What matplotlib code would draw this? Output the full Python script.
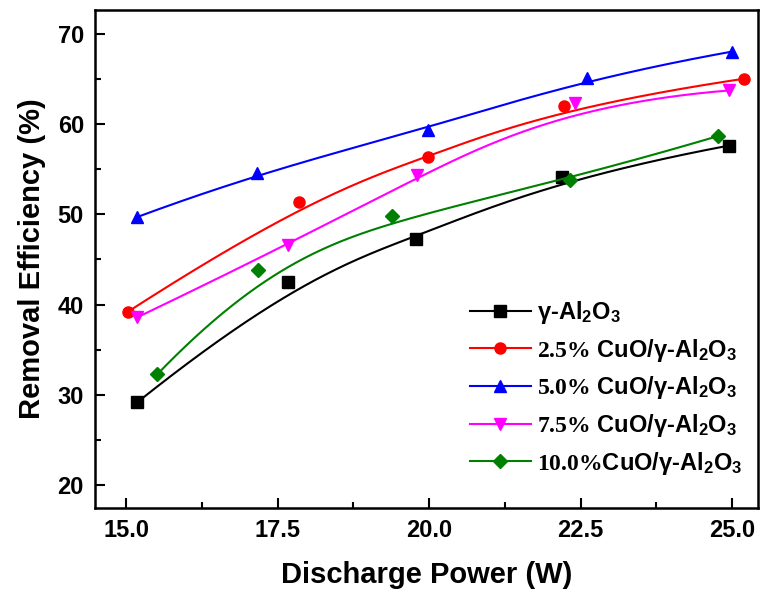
import numpy as np
import matplotlib
matplotlib.use('Agg')
import matplotlib.pyplot as plt

plt.rcParams['font.family'] = ['Liberation Sans', 'DejaVu Sans']
plt.rcParams['font.weight'] = 'bold'
plt.rcParams['mathtext.fontset'] = 'custom'
plt.rcParams['mathtext.default'] = 'regular'
plt.rcParams['mathtext.bf'] = 'Liberation Serif:bold'

# data
x_al2o3 = [15.18, 17.67, 19.78, 22.19, 24.95]
y_al2o3 = [29.2, 42.5, 47.3, 54.1, 57.6]

x_cu25 = [15.02, 17.85, 19.98, 22.22, 25.20]
y_cu25 = [39.2, 51.4, 56.3, 62.0, 65.0]

x_cu50 = [15.18, 17.15, 19.98, 22.60, 25.00]
y_cu50 = [49.7, 54.6, 59.3, 65.1, 68.0]

x_cu75 = [15.18, 17.67, 19.80, 22.41, 24.95]
y_cu75 = [38.6, 46.6, 54.3, 62.3, 63.7]

x_cu100 = [15.51, 17.17, 19.38, 22.32, 24.77]
y_cu100 = [32.3, 43.8, 49.8, 53.8, 58.65]

labels = ['γ-Al$_2$O$_3$',
          r'$\mathbf{2.5\%}$ CuO/γ-Al$_2$O$_3$',
          r'$\mathbf{5.0\%}$ CuO/γ-Al$_2$O$_3$',
          r'$\mathbf{7.5\%}$ CuO/γ-Al$_2$O$_3$',
          r'$\mathbf{10.0\%}$CuO/γ-Al$_2$O$_3$']


def bspline(px, py, k=3, n=300):
    # clamped B-spline with the data points as control points (Origin style)
    px = np.asarray(px, float)
    py = np.asarray(py, float)
    m = len(px)
    knots = np.concatenate([np.zeros(k), np.linspace(0, 1, m - k + 1), np.ones(k)])
    t = np.linspace(0, 1 - 1e-9, n)
    B = np.zeros((n, len(knots) - 1))
    for i in range(len(knots) - 1):
        B[:, i] = (knots[i] <= t) & (t < knots[i + 1])
    for d in range(1, k + 1):
        Bn = np.zeros((n, len(knots) - 1 - d))
        for i in range(len(knots) - 1 - d):
            a = 0.0
            if knots[i + d] != knots[i]:
                a = (t - knots[i]) / (knots[i + d] - knots[i]) * B[:, i]
            b = 0.0
            if knots[i + d + 1] != knots[i + 1]:
                b = (knots[i + d + 1] - t) / (knots[i + d + 1] - knots[i + 1]) * B[:, i + 1]
            Bn[:, i] = a + b
        B = Bn
    return B @ px, B @ py


fig = plt.figure(figsize=(7.6, 5.92), dpi=100)
ax = fig.add_axes([0.125, 0.142, 0.873, 0.841])

series = [
    (x_al2o3, y_al2o3, 'black', 's'),
    (x_cu25, y_cu25, 'red', 'o'),
    (x_cu50, y_cu50, 'blue', '^'),
    (x_cu75, y_cu75, 'magenta', 'v'),
    (x_cu100, y_cu100, 'green', 'D'),
]
for (xs, ys, c, m), lab in zip(series, labels):
    sx, sy = bspline(xs, ys)
    ms = 8 if m != 'D' else 7
    ax.plot(sx, sy, '-', color=c, lw=1.5)
    ax.plot(xs, ys, m, color=c, ms=ms, ls='none')
    ax.plot([], [], '-', color=c, marker=m, ms=ms, lw=1.5, label=lab)

ax.set_xlim(14.48, 25.44)
ax.set_ylim(17.5, 72.6)
ax.set_xticks([15.0, 17.5, 20.0, 22.5, 25.0])
ax.set_xticklabels(['15.0', '17.5', '20.0', '22.5', '25.0'])
ax.set_yticks([20, 30, 40, 50, 60, 70])
ax.set_xticks(np.arange(16.25, 25, 2.5), minor=True)
ax.set_yticks(np.arange(25, 70, 10), minor=True)
ax.tick_params(which='both', direction='in', width=1.5, labelsize=17, pad=8)
ax.tick_params(which='major', length=7)
ax.tick_params(which='minor', length=4)
for s in ax.spines.values():
    s.set_linewidth(1.8)

ax.set_xlabel('Discharge Power (W)', fontsize=21, fontweight='bold', labelpad=14)
ax.set_ylabel('Removal Efficiency (%)', fontsize=21, fontweight='bold', labelpad=8)

ax.legend(loc='lower right', bbox_to_anchor=(0.99, 0.044), frameon=False,
          fontsize=17, handlelength=2.6, handletextpad=0.25, labelspacing=0.45,
          borderaxespad=0)

plt.savefig('out.png', dpi=100)
